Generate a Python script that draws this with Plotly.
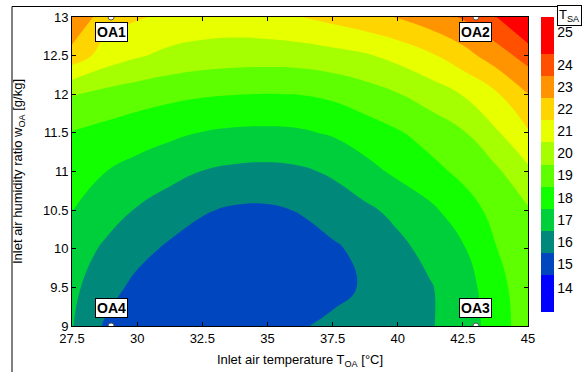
import plotly.graph_objects as go

# ---- data ----
t_oa = [27.5, 28.75, 30.0, 31.25, 32.5, 33.75, 35.0, 36.25, 37.5, 38.75, 40.0, 41.25, 42.5, 43.75, 45.0]
w_oa = [9.0, 9.5, 10.0, 10.5, 11.0, 11.5, 12.0, 12.5, 13.0]

t_sa_w90  = [16.55, 15.40, 15.05, 14.90, 14.85, 14.90, 15.10, 15.42, 15.70, 15.93, 16.18, 16.43, 16.95, 17.95, 19.10]
t_sa_w95  = [16.72, 15.90, 15.25, 14.97, 14.80, 14.75, 14.80, 14.98, 15.22, 15.60, 16.02, 16.43, 17.05, 18.05, 19.20]
t_sa_w100 = [17.05, 16.35, 15.80, 15.35, 15.10, 14.97, 14.97, 15.10, 15.35, 15.78, 16.25, 16.80, 17.40, 18.45, 19.35]
t_sa_w105 = [17.52, 16.97, 16.43, 16.00, 15.58, 15.38, 15.36, 15.55, 15.96, 16.31, 16.76, 17.30, 18.03, 18.80, 19.40]
t_sa_w110 = [18.00, 17.52, 17.16, 16.82, 16.48, 16.30, 16.25, 16.35, 16.63, 17.17, 17.70, 18.20, 18.73, 19.30, 20.30]
t_sa_w115 = [18.45, 18.20, 17.95, 17.70, 17.47, 17.33, 17.30, 17.37, 17.60, 18.00, 18.40, 18.88, 19.40, 20.36, 21.40]
t_sa_w120 = [19.55, 19.20, 18.95, 18.75, 18.60, 18.52, 18.48, 18.52, 18.70, 19.05, 19.45, 19.95, 20.55, 21.35, 22.48]
t_sa_w125 = [22.10, 21.10, 20.60, 20.25, 20.05, 19.95, 19.93, 19.98, 20.15, 20.38, 20.80, 21.35, 22.10, 23.00, 23.90]
t_sa_w130 = [23.50, 21.95, 21.60, 21.30, 21.15, 21.12, 21.25, 21.48, 21.80, 22.15, 22.55, 23.05, 23.60, 24.45, 25.80]

t_sa = [t_sa_w90, t_sa_w95, t_sa_w100, t_sa_w105, t_sa_w110, t_sa_w115,
        t_sa_w120, t_sa_w125, t_sa_w130]

cb_labels = [14, 15, 16, 17, 18, 19, 20, 21, 22, 23, 24, 25]
band_colors = ["#0000FF", "#0046BE", "#00897A", "#00CF3C", "#12FF00", "#5EFF00",
               "#A6FF00", "#E8FF00", "#FFD500", "#FF9300", "#FF5000", "#FF0000"]

oa_x = [29, 43, 43, 29]
oa_y = [13, 13, 9, 9]
oa_names = ["OA1", "OA2", "OA3", "OA4"]

x_ticks = [27.5, 30, 32.5, 35, 37.5, 40, 42.5, 45]
y_ticks = [9, 9.5, 10, 10.5, 11, 11.5, 12, 12.5, 13]

# ---- figure ----
FONT = "Liberation Sans, Arial, sans-serif"
W, H = 582, 372
ML, MR, MT, MB = 72, 54, 17, 46
PW, PH = W - ML - MR, H - MT - MB

def px_to_paper_x(px):
    return (px - ML) / PW

def px_to_paper_y(py):
    return 1 - (py - MT) / PH

n = len(band_colors)
colorscale = [[i / (n - 1), c] for i, c in enumerate(band_colors)]

zmin_cb, zmax_cb = 12.82, 26.18
tick_pos = [13.9] + cb_labels[1:-1] + [25.5]

fig = go.Figure()
fig.add_trace(go.Contour(
    x=t_oa, y=w_oa, z=t_sa,
    zmin=zmin_cb, zmax=zmax_cb,
    colorscale=colorscale,
    contours=dict(start=14.5, end=24.5, size=1, coloring="fill", showlines=False),
    line=dict(width=0, smoothing=1.3),
    colorbar=dict(
        x=px_to_paper_x(541), xanchor="left", xpad=0,
        y=1, yanchor="top", ypad=0,
        thickness=13, thicknessmode="pixels",
        len=295, lenmode="pixels",
        outlinewidth=0,
        tickmode="array", tickvals=tick_pos, ticktext=[str(v) for v in cb_labels],
        ticks="", ticklen=0,
        tickfont=dict(family=FONT, size=14, color="black"),
    ),
    hoverinfo="skip",
))

fig.add_trace(go.Scatter(
    x=oa_x, y=oa_y, mode="markers",
    marker=dict(size=6, color="white", line=dict(color="#555555", width=1)),
    showlegend=False, hoverinfo="skip",
))

annotations = []
for xv, yv, name in zip(oa_x, oa_y, oa_names):
    top = yv >= 12.9
    annotations.append(dict(
        x=xv, y=yv, xref="x", yref="y",
        text="<b>%s</b>" % name, showarrow=False,
        xanchor="center", yanchor="top" if top else "bottom",
        yshift=-5 if top else 8,
        font=dict(family=FONT, size=14, color="black"),
        bgcolor="white", bordercolor="black", borderwidth=1, borderpad=1,
    ))

annotations.append(dict(
    x=px_to_paper_x(557), y=px_to_paper_y(5), xref="paper", yref="paper",
    xanchor="left", yanchor="top", showarrow=False,
    text="T<sub>SA</sub>",
    font=dict(family=FONT, size=13, color="black"),
    bgcolor="white", bordercolor="black", borderwidth=1, borderpad=1,
))

fig.update_layout(
    width=W, height=H,
    margin=dict(l=ML, r=MR, t=MT, b=MB, autoexpand=False),
    paper_bgcolor="white", plot_bgcolor="white",
    font=dict(family=FONT, size=13, color="black"),
    showlegend=False,
    annotations=annotations,
    shapes=[dict(
        type="rect", xref="paper", yref="paper",
        x0=px_to_paper_x(12), x1=px_to_paper_x(620),
        y0=px_to_paper_y(400), y1=px_to_paper_y(6.5),
        line=dict(color="black", width=1), fillcolor="rgba(0,0,0,0)", layer="above",
    )],
    xaxis=dict(
        range=[27.5, 45], tickmode="array", tickvals=x_ticks,
        ticktext=[("%g" % v) for v in x_ticks],
        showline=True, linecolor="black", linewidth=1, mirror="ticks",
        ticks="inside", ticklen=4, tickcolor="black",
        showgrid=False, zeroline=False, automargin=False,
        tickfont=dict(family=FONT, size=13, color="black"),
        title=dict(text="Inlet air temperature T<sub>OA</sub> [°C]",
                   font=dict(family=FONT, size=13, color="black"), standoff=10),
    ),
    yaxis=dict(
        range=[9, 13], tickmode="array", tickvals=y_ticks,
        ticktext=[("%g" % v) for v in y_ticks],
        showline=True, linecolor="black", linewidth=1, mirror="ticks",
        ticks="inside", ticklen=4, tickcolor="black",
        showgrid=False, zeroline=False, automargin=False,
        tickfont=dict(family=FONT, size=13, color="black"),
        title=dict(text="Inlet air humidity ratio w<sub>OA</sub> [g/kg]",
                   font=dict(family=FONT, size=13, color="black"), standoff=17),
    ),
)

fig.write_html("out.html", config={"displayModeBar": False},
               post_script="document.body.style.margin='0px';")
